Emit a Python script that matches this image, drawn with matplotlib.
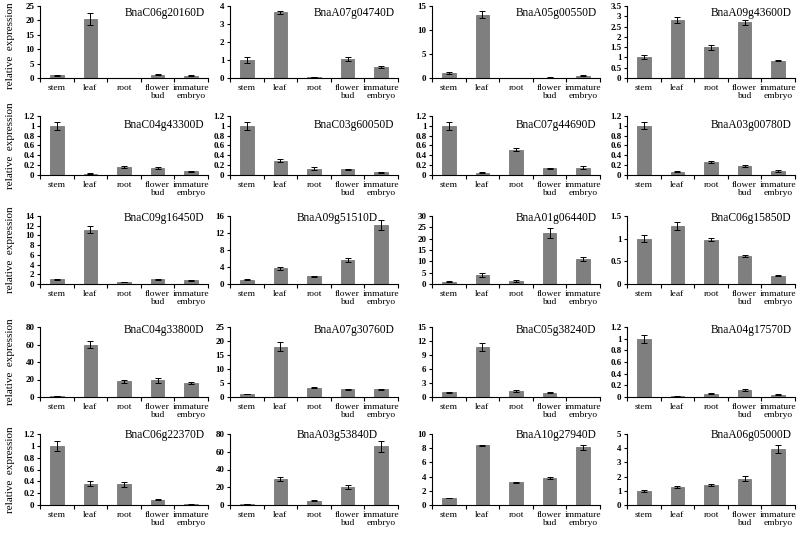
import matplotlib
matplotlib.use("Agg")
import matplotlib.pyplot as plt
from matplotlib.ticker import FuncFormatter

plt.rcParams['font.family'] = ['Liberation Serif', 'DejaVu Serif']

tissues = ["stem", "leaf", "root", "flower\nbud", "immature\nembryo"]

genes = [
    "BnaC06g20160D", "BnaA07g04740D", "BnaA05g00550D", "BnaA09g43600D",
    "BnaC04g43300D", "BnaC03g60050D", "BnaC07g44690D", "BnaA03g00780D",
    "BnaC09g16450D", "BnaA09g51510D", "BnaA01g06440D", "BnaC06g15850D",
    "BnaC04g33800D", "BnaA07g30760D", "BnaC05g38240D", "BnaA04g17570D",
    "BnaC06g22370D", "BnaA03g53840D", "BnaA10g27940D", "BnaA06g05000D",
]

means = [
    [1.0, 20.5, 0.02, 1.2, 0.8],
    [1.0, 3.65, 0.05, 1.05, 0.62],
    [1.0, 13.2, 0.02, 0.08, 0.5],
    [1.0, 2.8, 1.5, 2.7, 0.85],
    [1.0, 0.03, 0.16, 0.15, 0.08],
    [1.0, 0.29, 0.13, 0.12, 0.06],
    [1.0, 0.05, 0.51, 0.14, 0.15],
    [1.0, 0.07, 0.26, 0.19, 0.08],
    [1.0, 11.2, 0.45, 1.0, 0.8],
    [1.0, 3.7, 1.8, 5.7, 13.8],
    [1.0, 4.0, 1.4, 22.5, 11.0],
    [1.0, 1.28, 0.98, 0.62, 0.18],
    [1.0, 60.0, 18.0, 19.0, 16.0],
    [1.0, 18.0, 3.3, 2.7, 2.8],
    [1.0, 10.7, 1.3, 0.9, 0.02],
    [1.0, 0.01, 0.06, 0.12, 0.04],
    [1.0, 0.36, 0.35, 0.09, 0.01],
    [1.0, 29.0, 5.0, 20.0, 66.0],
    [1.0, 8.4, 3.2, 3.8, 8.1],
    [1.0, 1.25, 1.4, 1.85, 3.95],
]

errors = [
    [0.2, 2.0, 0.01, 0.2, 0.15],
    [0.15, 0.1, 0.02, 0.12, 0.05],
    [0.15, 0.8, 0.01, 0.03, 0.1],
    [0.1, 0.15, 0.12, 0.12, 0.03],
    [0.08, 0.005, 0.02, 0.02, 0.01],
    [0.08, 0.03, 0.03, 0.01, 0.01],
    [0.08, 0.01, 0.03, 0.01, 0.03],
    [0.07, 0.01, 0.02, 0.02, 0.015],
    [0.1, 0.8, 0.05, 0.08, 0.1],
    [0.1, 0.4, 0.15, 0.5, 1.2],
    [0.2, 0.8, 0.3, 2.2, 1.0],
    [0.07, 0.08, 0.03, 0.02, 0.01],
    [0.3, 4.0, 2.0, 2.5, 1.5],
    [0.1, 1.5, 0.2, 0.2, 0.2],
    [0.1, 0.9, 0.15, 0.1, 0.01],
    [0.07, 0.003, 0.01, 0.015, 0.01],
    [0.08, 0.04, 0.04, 0.005, 0.003],
    [0.2, 2.0, 1.0, 2.0, 6.0],
    [0.05, 0.1, 0.1, 0.15, 0.3],
    [0.05, 0.06, 0.08, 0.17, 0.3],
]

# max and step of each y axis
ymax = [25, 4, 15, 3.5, 1.2, 1.2, 1.2, 1.2, 14, 16, 30, 1.5,
        80, 25, 15, 1.2, 1.2, 80, 10, 5]
ystep = [5, 1, 5, 0.5, 0.2, 0.2, 0.2, 0.2, 2, 4, 5, 0.5,
         20, 5, 3, 0.2, 0.2, 20, 2, 1]

W, H = 800, 533
col_left = [40, 230, 432, 627]
col_w = 168
row_top = [6, 116, 216, 327, 434]
row_base = [78, 175, 284, 397, 505]
# where the gene name sits, in axes fractions
name_y = [0.90, 0.85, 0.97, 0.96, 0.99]
name_x = [0.98] * 20
name_x[9] = 0.88
name_x[17] = 0.88

fig = plt.figure(figsize=(8, 5.33), dpi=100)

def fmt(v, pos):
    return "%g" % round(v, 3)

for k in range(20):
    r, c = divmod(k, 4)
    ax = fig.add_axes([col_left[c] / W, 1 - row_base[r] / H,
                       col_w / W, (row_base[r] - row_top[r]) / H])
    x = range(5)
    ax.bar(x, means[k], width=0.4, color="#7f7f7f", edgecolor="#6a6a6a", linewidth=0.5)
    ax.errorbar(x, means[k], yerr=errors[k], fmt="none", ecolor="black",
                elinewidth=0.7, capsize=2, capthick=0.7)
    ax.set_xlim(-0.5, 4.5)
    ax.set_ylim(0, ymax[k])
    n = int(round(ymax[k] / ystep[k]))
    ax.set_yticks([i * ystep[k] for i in range(n + 1)])
    ax.yaxis.set_major_formatter(FuncFormatter(fmt))
    for lab in ax.get_yticklabels():
        lab.set_fontweight("bold")
        lab.set_fontsize(6.5)
    ax.tick_params(axis="y", length=2, width=0.8, pad=2)
    ax.set_xticks(list(x))
    ax.set_xticklabels(tissues, fontsize=6.8, linespacing=1.0)
    ax.tick_params(axis="x", length=0, pad=4)
    ax.set_xticks([i - 0.5 for i in range(6)], minor=True)
    ax.tick_params(axis="x", which="minor", length=3, width=0.8, direction="out")
    for s in ["top", "right"]:
        ax.spines[s].set_visible(False)
    ax.spines["left"].set_linewidth(0.8)
    ax.spines["bottom"].set_linewidth(0.8)
    ax.text(name_x[k], name_y[r], genes[k], transform=ax.transAxes, ha="right",
            va="center", fontsize=8.3)
    if c == 0:
        ax.set_ylabel("relative  expression", fontsize=8)
        ax.yaxis.set_label_coords(-0.15, 0.45 if r == 0 else 0.5)

fig.savefig("out.png", dpi=100)
